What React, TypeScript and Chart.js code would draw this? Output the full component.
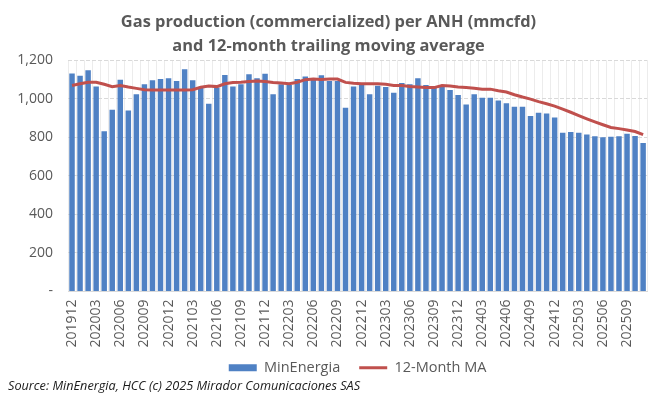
import React, { useEffect, useRef } from "react";
import { Chart, registerables } from "chart.js";

Chart.register(...registerables);

const months: string[] = [
  "201912",
  "202001", "202002", "202003", "202004", "202005", "202006", "202007", "202008", "202009", "202010", "202011", "202012",
  "202101", "202102", "202103", "202104", "202105", "202106", "202107", "202108", "202109", "202110", "202111", "202112",
  "202201", "202202", "202203", "202204", "202205", "202206", "202207", "202208", "202209", "202210", "202211", "202212",
  "202301", "202302", "202303", "202304", "202305", "202306", "202307", "202308", "202309", "202310", "202311", "202312",
  "202401", "202402", "202403", "202404", "202405", "202406", "202407", "202408", "202409", "202410", "202411", "202412",
  "202501", "202502", "202503", "202504", "202505", "202506", "202507", "202508", "202509", "202510", "202511",
];

const minEnergia: number[] = [
  1131, 1120, 1148, 1063, 831, 943, 1099, 939, 1024, 1075,
  1096, 1102, 1106, 1092, 1153, 1096, 1058, 974, 1058, 1123,
  1064, 1075, 1127, 1106, 1130, 1024, 1075, 1071, 1102, 1115,
  1097, 1122, 1092, 1092, 953, 1063, 1071, 1024, 1068, 1061,
  1031, 1082, 1075, 1106, 1071, 1058, 1061, 1045, 1019, 970,
  1024, 1005, 1005, 991, 977, 958, 958, 911, 927, 924,
  903, 824, 828, 824, 814, 805, 800, 803, 805, 818, 807, 771,
];

const movingAverage: number[] = [
  1069, 1078, 1086, 1086, 1075, 1063, 1069, 1061, 1054, 1047,
  1046, 1046, 1046, 1046, 1046, 1047, 1060, 1066, 1063, 1078,
  1084, 1086, 1089, 1092, 1089, 1084, 1082, 1078, 1086, 1099,
  1102, 1100, 1102, 1102, 1085, 1080, 1078, 1078, 1078, 1075,
  1069, 1069, 1064, 1061, 1058, 1058, 1069, 1066, 1061, 1058,
  1055, 1050, 1050, 1042, 1035, 1021, 1009, 998, 985, 974,
  962, 946, 930, 913, 896, 880, 865, 851, 845, 838, 830, 814,
];

const yTicks: number[] = [0, 200, 400, 600, 800, 1000, 1200];

const titleLines: string[] = [
  "Gas production (commercialized) per ANH (mmcfd)",
  "and 12-month trailing moving average",
];
const sourceText = "Source: MinEnergia, HCC (c) 2025 Mirador Comunicaciones SAS";

const FONT = "'Open Sans', 'Noto Sans', sans-serif";
const GRAY = "#595959";
const BLUE = "#4f81c4";
const RED = "#c0504d";

const sourcePlugin = {
  id: "sourceText",
  afterDraw(chart: any) {
    const ctx = chart.ctx;
    ctx.save();
    ctx.font = `italic 12.7px ${FONT}`;
    ctx.fillStyle = "#1a1a1a";
    ctx.textAlign = "left";
    ctx.textBaseline = "middle";
    ctx.fillText(sourceText, 8, 386);
    ctx.restore();
  },
};

export default function App() {
  const ref = useRef<HTMLCanvasElement | null>(null);

  useEffect(() => {
    if (!ref.current) return;
    const chart = new Chart(ref.current, {
      type: "bar",
      data: {
        labels: months,
        datasets: [
          {
            type: "bar",
            label: "MinEnergia",
            data: minEnergia,
            backgroundColor: BLUE,
            borderWidth: 0,
            barPercentage: 0.68,
            categoryPercentage: 1,
            order: 2,
          },
          {
            type: "line",
            label: "12-Month MA",
            data: movingAverage,
            borderColor: RED,
            backgroundColor: RED,
            borderWidth: 3,
            pointRadius: 0,
            tension: 0,
            order: 1,
          },
        ] as any,
      },
      plugins: [sourcePlugin],
      options: {
        animation: false,
        responsive: false,
        maintainAspectRatio: false,
        layout: { padding: { left: 0, right: 11, top: 0, bottom: 9 } },
        plugins: {
          title: {
            display: true,
            text: titleLines,
            color: GRAY,
            font: { family: FONT, size: 16.4, weight: "bold", lineHeight: 1.47 },
            padding: { top: 10, bottom: 2 },
          },
          legend: {
            position: "bottom",
            fullSize: false,
            labels: {
              color: GRAY,
              font: { family: FONT, size: 14.5 },
              usePointStyle: true,
              pointStyleWidth: 28,
              boxHeight: 7,
              padding: 19,
              sort: (a: any, b: any) => a.datasetIndex - b.datasetIndex,
              generateLabels(chart: any) {
                const items = Chart.defaults.plugins.legend.labels.generateLabels(chart);
                items.forEach((it: any) => {
                  if (it.datasetIndex === 0) {
                    it.pointStyle = "rect";
                    it.lineWidth = 0;
                    it.fillStyle = BLUE;
                    it.strokeStyle = BLUE;
                  } else {
                    it.pointStyle = "line";
                    it.lineWidth = 3;
                    it.strokeStyle = RED;
                    it.fillStyle = RED;
                  }
                });
                return items;
              },
            },
          },
          tooltip: { enabled: false },
        },
        scales: {
          x: {
            offset: true,
            grid: {
              display: true,
              offset: true,
              color: "#ececec",
              drawTicks: false,
            },
            border: { display: true, color: "#d9d9d9" },
            ticks: {
              autoSkip: false,
              minRotation: 90,
              maxRotation: 90,
              padding: 8,
              color: GRAY,
              font: { family: FONT, size: 14 },
              callback: (_v: any, i: number) => (i % 3 === 0 ? months[i] : ""),
            },
            afterFit: (scale: any) => {
              scale.height = 50;
              // let rotated labels extend below the (shortened) axis box
              scale._computeLabelArea = () => undefined;
            },
          },
          y: {
            min: 0,
            max: 1200,
            afterBuildTicks: (scale: any) => {
              scale.ticks = yTicks.map((v) => ({ value: v }));
            },
            grid: {
              color: "#d9d9d9",
              drawTicks: false,
            },
            border: { display: false, dash: [4, 2] },
            ticks: {
              padding: 15,
              color: GRAY,
              font: { family: FONT, size: 14 },
              callback: (v: any) => (Number(v) === 0 ? "-" : Number(v).toLocaleString("en-US")),
            },
            afterFit: (scale: any) => {
              scale.width = 68;
            },
          },
        },
      },
    });
    return () => chart.destroy();
  }, []);

  return (
    <div style={{ position: "fixed", left: 0, top: 0, width: 668, height: 394, background: "#fff" }}>
      <canvas ref={ref} width={668} height={394} style={{ width: 668, height: 394 }} />
    </div>
  );
}
